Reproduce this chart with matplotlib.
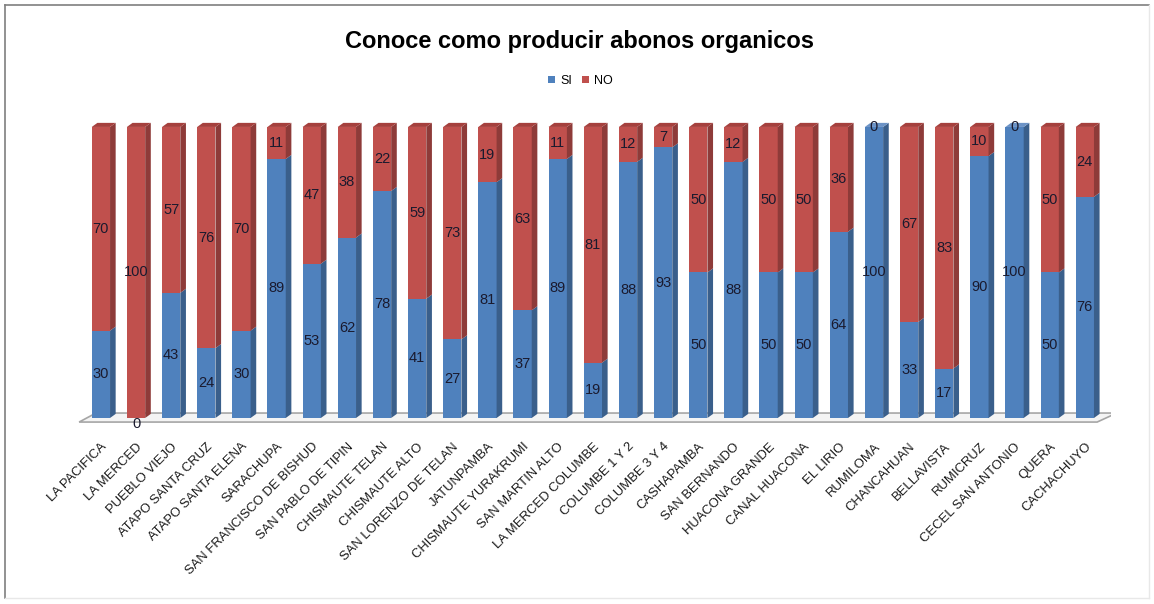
import numpy as np
import matplotlib.pyplot as plt
from matplotlib.patches import Polygon, Patch
from matplotlib.lines import Line2D

plt.rcParams['font.family'] = ['Liberation Sans Narrow', 'Liberation Sans', 'DejaVu Sans']

comunidades = ['LA PACIFICA', 'LA MERCED', 'PUEBLO VIEJO', 'ATAPO SANTA CRUZ',
               'ATAPO SANTA ELENA', 'SARACHUPA', 'SAN FRANCISCO DE BISHUD',
               'SAN PABLO DE TIPIN', 'CHISMAUTE TELAN', 'CHISMAUTE ALTO',
               'SAN LORENZO DE TELAN', 'JATUNPAMBA', 'CHISMAUTE YURAKRUMI',
               'SAN MARTIN ALTO', 'LA MERCED COLUMBE', 'COLUMBE 1 Y 2',
               'COLUMBE 3 Y 4', 'CASHAPAMBA', 'SAN BERNANDO', 'HUACONA GRANDE',
               'CANAL HUACONA', 'EL LIRIO', 'RUMILOMA', 'CHANCAHUAN', 'BELLAVISTA',
               'RUMICRUZ', 'CECEL SAN ANTONIO', 'QUERA', 'CACHACHUYO']
si = [30, 0, 43, 24, 30, 89, 53, 62, 78, 41, 27, 81, 37, 89, 19, 88, 93, 50,
      88, 50, 50, 64, 100, 33, 17, 90, 100, 50, 76]
no = [70, 100, 57, 76, 70, 11, 47, 38, 22, 59, 73, 19, 63, 11, 81, 12, 7, 50,
      12, 50, 50, 36, 0, 67, 83, 10, 0, 50, 24]

azul = '#4F81BD'
azul_lado = '#3A5F8B'
azul_tope = '#6C93C6'
rojo = '#C0504D'
rojo_lado = '#8E3B39'
rojo_tope = '#A5403D'

W, H = 1154, 604
fig = plt.figure(figsize=(W / 100, H / 100), dpi=100)
ax = fig.add_axes([0.0646, 0.2887, 0.8983, 0.5204])

x = np.arange(len(comunidades))
ancho = 0.52
dx, dy = 0.16, 1.4  # profundidad del efecto 3D

# piso
piso = Polygon([(-0.62, -1.4), (28.35, -1.4), (28.75 + dx, 1.7), (-0.3 + dx, 1.7)],
               closed=True, facecolor='#F4F4F4', edgecolor='#A6A6A6', lw=1.2, zorder=1)
ax.add_patch(piso)

ax.bar(x, si, width=ancho, color=azul, zorder=3)
ax.bar(x, no, width=ancho, bottom=si, color=rojo, zorder=3)

for i in range(len(x)):
    xr = x[i] + ancho / 2
    xl = x[i] - ancho / 2
    tramos = [(0, si[i], azul_lado), (si[i], si[i] + no[i], rojo_lado)]
    for y0, y1, c in tramos:
        if y1 > y0:
            ax.add_patch(Polygon([(xr, y0), (xr + dx, y0 + dy), (xr + dx, y1 + dy), (xr, y1)],
                                 closed=True, facecolor=c, edgecolor='none', zorder=3))
    tope = si[i] + no[i]
    ctope = rojo_tope if no[i] > 0 else azul_tope
    ax.add_patch(Polygon([(xl, tope), (xl + dx, tope + dy), (xr + dx, tope + dy), (xr, tope)],
                         closed=True, facecolor=ctope, edgecolor='none', zorder=3))
    # etiquetas
    y_si = si[i] / 2 if si[i] > 0 else -2.2
    ax.text(x[i], y_si, str(si[i]), ha='center', va='center', fontsize=10.5,
            color='#1a1a2e', zorder=5)
    ax.text(x[i], si[i] + no[i] / 2, str(no[i]), ha='center', va='center', fontsize=10.5,
            color='#1a1a2e', zorder=5)

ax.set_xlim(-0.75, 28.75)
ax.set_ylim(-4, 104)
ax.set_xticks(x)
ax.set_xticklabels(comunidades, rotation=45, ha='right', rotation_mode='anchor',
                   fontsize=9.4, color='#1a1a1a')
ax.tick_params(axis='x', length=0, pad=8)
ax.set_yticks([])
for s in ax.spines.values():
    s.set_visible(False)

fig.text(0.5025, 0.932, 'Conoce como producir abonos organicos', ha='center', va='center',
         fontsize=17, fontweight='bold', color='black')

handles = [Patch(facecolor=azul, label='SI'), Patch(facecolor=rojo, label='NO')]
fig.legend(handles=handles, loc='center', bbox_to_anchor=(0.503, 0.866), ncol=2,
           frameon=False, fontsize=9, handlelength=0.6, handleheight=0.6,
           handletextpad=0.4, columnspacing=0.8)

# borde del grafico
fig.add_artist(Line2D([0.004, 0.004], [0.01, 0.992], color='#7F7F7F', lw=1.2))
fig.add_artist(Line2D([0.004, 0.996], [0.992, 0.992], color='#7F7F7F', lw=1.2))
fig.add_artist(Line2D([0.996, 0.996], [0.01, 0.992], color='#E8E8E8', lw=1))
fig.add_artist(Line2D([0.004, 0.996], [0.01, 0.01], color='#E8E8E8', lw=1))

fig.savefig('out.png', dpi=100)
